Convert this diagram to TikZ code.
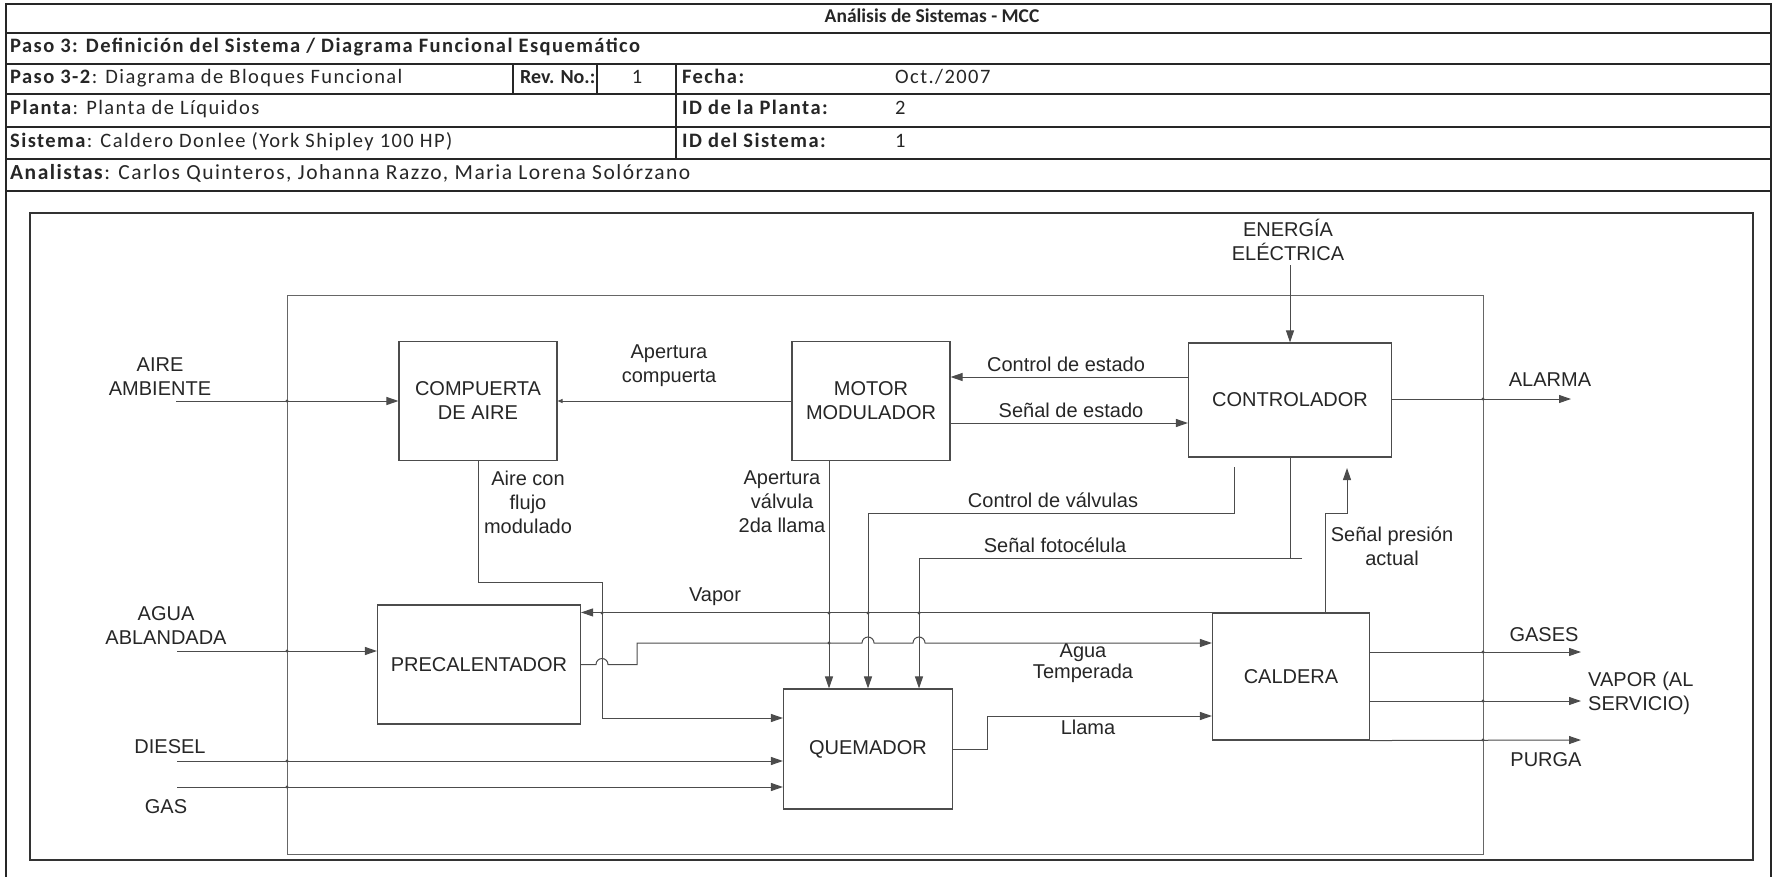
\documentclass[tikz,border=0pt]{standalone}
\usepackage{fontspec}
\setmainfont{Liberation Sans}
\newfontfamily\hdrfont{Carlito}[LetterSpace=7]
\newfontfamily\hdrtight{Carlito}
\usetikzlibrary{arrows.meta}

\begin{document}
\begin{tikzpicture}[x=1pt,y=-1pt,
  hdrline/.style={line width=2.4pt, draw=black!85},
  hdr/.style={font=\hdrfont\fontsize{20.5}{23}\selectfont, anchor=west, inner sep=0pt,
              text height=13pt, text depth=4pt, text=black!85},
  lbl/.style={font=\fontsize{20}{24}\selectfont, align=center, inner sep=0pt, text=black!85},
  blockbox/.style={draw=black!70, line width=1.1pt, fill=white,
                   font=\fontsize{20}{24}\selectfont, align=center, inner sep=0pt, text=black!85},
  flow/.style={draw=black!70, line width=1pt},
  arr/.style={flow, -{Triangle[length=12pt,width=8pt]}},
  smallarr/.style={flow, -{Triangle[length=5pt,width=4pt]}},
  jdot/.style={fill=black!70}
]
\useasboundingbox (0,0) rectangle (1776,877);

% ---------- header table ----------
\draw[hdrline] (6,877) -- (6,4) -- (1771,4) -- (1771,877);
\foreach \yy in {33,64,94,127,159,191} \draw[hdrline] (6,\yy) -- (1771,\yy);
\draw[hdrline] (513,64) -- (513,94);
\draw[hdrline] (597,64) -- (597,94);
\draw[hdrline] (676,64) -- (676,159);

\node[hdr, anchor=center, font=\hdrtight\fontsize{19.5}{23}\selectfont] (title) at (932,18.5) {\bfseries Análisis de Sistemas - MCC};
\node[hdr] (paso3) at (10,48.5) {\bfseries Paso 3: Definición del Sistema / Diagrama Funcional Esquemático};
\node[hdr] (paso32) at (10,79) {\textbf{Paso 3-2}: Diagrama de Bloques Funcional};
\node[hdr, font=\hdrtight\fontsize{20}{23}\selectfont] (rev) at (520,79) {\bfseries Rev. No.:};
\node[hdr, anchor=center] (revno) at (637,79) {1};
\node[hdr] (fecha) at (682,79) {\bfseries Fecha:};
\node[hdr] (fechav) at (895,79) {Oct./2007};
\node[hdr] (planta) at (10,110.5) {\textbf{Planta}: Planta de Líquidos};
\node[hdr] (idpl) at (682,110.5) {\bfseries ID de la Planta:};
\node[hdr] (idplv) at (895,110.5) {2};
\node[hdr] (sist) at (10,143) {\textbf{Sistema}: Caldero Donlee (York Shipley 100 HP)};
\node[hdr] (idsi) at (682,143) {\bfseries ID del Sistema:};
\node[hdr] (idsiv) at (895,143) {1};
\node[hdr, font=\hdrfont\fontsize{21.5}{23}\selectfont] (anal) at (10,175) {\textbf{Analistas}: Carlos Quinteros, Johanna Razzo, Maria Lorena Solórzano};

% ---------- diagram frame and system boundary ----------
\draw[line width=1.8pt, black!80] (30,213) rectangle (1753,860);
\draw[line width=2.6pt, black!80] (30,860) -- (1753,860);
\draw[line width=1pt, black!60] (287,295) rectangle (1483,854);

% ---------- blocks ----------
\node[blockbox, minimum width=158pt, minimum height=119pt] (comp) at (478,401) {COMPUERTA\\DE AIRE};
\node[blockbox, minimum width=158pt, minimum height=119pt] (motor) at (871,401) {MOTOR\\MODULADOR};
\node[blockbox, minimum width=203pt, minimum height=114pt] (ctrl) at (1290,400) {CONTROLADOR};
\node[blockbox, minimum width=203pt, minimum height=119pt] (prec) at (479,664.5) {PRECALENTADOR};
\node[blockbox, minimum width=169pt, minimum height=120pt] (quem) at (868,749) {QUEMADOR};
\node[blockbox, minimum width=157pt, minimum height=127pt] (cald) at (1291,676.5) {CALDERA};

% ---------- free ends of external flows ----------
\coordinate (energiaIn) at (1290,265);
\coordinate (aireIn) at (176,401);
\coordinate (aguaIn) at (177,651);
\coordinate (dieselIn) at (177,761);
\coordinate (gasIn) at (177,787);
\coordinate (alarmaOut) at (1571,399);
\coordinate (gasesOut) at (1581,652);
\coordinate (vaporOut) at (1581,701);
\coordinate (purgaOut) at (1581,740);

% ---------- connectors ----------
\draw[arr] (energiaIn) -- (ctrl.north);
\draw[arr] (aireIn) -- (comp.west);
\draw[smallarr] (motor.west) -- (comp.east);
\draw[arr] (ctrl.west |- 0,377) -- (motor.east |- 0,377);
\draw[arr] (motor.east |- 0,423) -- (ctrl.west |- 0,423);
\draw[arr] (ctrl.east |- alarmaOut) -- (alarmaOut);

% air with modulated flow to the burner
\draw[arr] (comp.south) -- (478,582) -- (602,582) -- (602,718) -- (quem.west |- 0,718);
% second-flame valve opening
\draw[arr] (829,0 |- motor.south) -- (829,0 |- quem.north);
% valve control
\draw[arr] (1234,467) -- (1234,513) -- (868,513) -- (quem.north);
% photocell signal
\draw[flow] (ctrl.south) -- (1290,558);
\draw[arr] (1302,558) -- (919,558) -- (919,0 |- quem.north);
% pressure signal
\draw[arr] (1325,0 |- cald.north) -- (1325,513) -- (1347,513) -- (1347,468);
% steam back to the preheater
\draw[arr] (cald.north west) -- (prec.east |- cald.north west);
% tempered water, with line jumps
\draw[arr] (prec.east) -- (596,664.5) arc[start angle=180, end angle=0, radius=6pt]
  -- (637,664.5) -- (637,643) -- (862,643) arc[start angle=180, end angle=0, radius=6pt]
  -- (913,643) arc[start angle=180, end angle=0, radius=6pt] -- (cald.west |- 0,643);
% softened water, fuels
\draw[arr] (aguaIn) -- (prec.west |- aguaIn);
\draw[arr] (dieselIn) -- (quem.west |- dieselIn);
\draw[arr] (gasIn) -- (quem.west |- gasIn);
% flame
\draw[arr] (quem.east) -- (987,749) -- (987,716) -- (cald.west |- 0,716);
% boiler outputs
\draw[arr] (cald.east |- gasesOut) -- (gasesOut);
\draw[arr] (cald.east |- vaporOut) -- (vaporOut);
\draw[arr] (cald.south east) -- (purgaOut);

% junction dots at crossings
\foreach \p in {(287,401),(287,651),(287,761),(287,787),(1483,399),(1483,652),(1483,701),(1483,740),
                (602,613),(829,613),(868,613),(919,613),(829,643)}
  \fill[jdot] \p circle[radius=1.6pt];

% ---------- labels ----------
\node[lbl] (lEnergia) at (1288,240) {ENERGÍA\\ELÉCTRICA};
\node[lbl] (lAire) at (160,377) {AIRE\\AMBIENTE};
\node[lbl] (lAgua) at (166,626) {AGUA\\ABLANDADA};
\node[lbl] (lDiesel) at (170,747) {DIESEL};
\node[lbl] (lGas) at (166,807) {GAS};
\node[lbl] (lApComp) at (669,366) {Apertura\\compuerta};
\node[lbl] (lCtrlEst) at (1066,364) {Control de estado};
\node[lbl] (lSenEst) at (1071,410) {Señal de estado};
\node[lbl] (lAlarma) at (1550,380) {ALARMA};
\node[lbl] (lAireFlujo) at (528,502) {Aire con\\flujo\\modulado};
\node[lbl] (lApVal) at (782,502) {Apertura\\válvula\\2da llama};
\node[lbl] (lCtrlVal) at (1053,500) {Control de válvulas};
\node[lbl] (lFoto) at (1055,545) {Señal fotocélula};
\node[lbl] (lPresion) at (1392,546) {Señal presión\\actual};
\node[lbl] (lVapor) at (715,597) {Vapor};
\node[lbl, font=\fontsize{20}{21}\selectfont] (lAguaTemp) at (1083,663) {Agua\\Temperada};
\node[lbl] (lLlama) at (1088,727) {Llama};
\node[lbl] (lGases) at (1544,635) {GASES};
\node[lbl, anchor=west, align=left] (lVaporServ) at (1588,693) {VAPOR (AL\\SERVICIO)};
\node[lbl] (lPurga) at (1546,760) {PURGA};
\end{tikzpicture}
\end{document}
